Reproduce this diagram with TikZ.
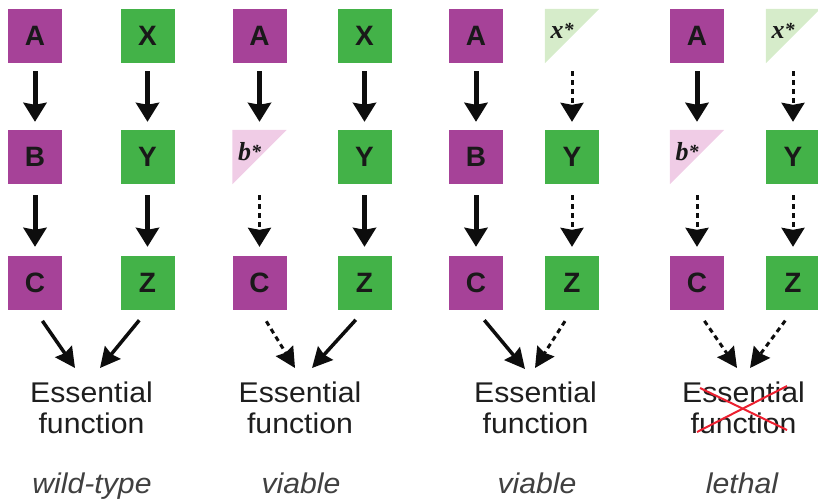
\documentclass[tikz,border=0pt]{standalone}
\usepackage{fontspec}
\setmainfont{Liberation Sans}
\newfontfamily\labfont[FakeStretch=1.06]{Liberation Sans}
\newfontfamily\mutfont{Liberation Serif}
\usetikzlibrary{arrows.meta,backgrounds}
\definecolor{purp}{RGB}{166,66,152}
\definecolor{grn}{RGB}{67,178,72}
\definecolor{purpl}{RGB}{240,204,230}
\definecolor{grnl}{RGB}{214,236,202}
\definecolor{txt}{RGB}{30,30,30}
\definecolor{crossred}{RGB}{236,32,48}
\newcommand{\mutname}[1]{#1\raisebox{2pt}{\fontsize{20}{20}\selectfont *}}
\begin{document}
\begin{tikzpicture}[x=1pt,y=-1pt,
  gene/.style={minimum size=54pt, inner sep=0pt, font=\fontsize{28}{30}\selectfont\bfseries, text=black!90},
  pg/.style={gene, fill=purp},
  gg/.style={gene, fill=grn},
  mut/.style={minimum size=54pt, inner sep=0pt},
  mutlab/.style={inner sep=0pt, font=\mutfont\bfseries\itshape\fontsize{26}{28}\selectfont, text=black!90, xshift=-10pt, yshift=5pt},
  ess/.style={inner sep=0pt, align=center, font=\labfont\fontsize{28.5}{31}\selectfont, text=txt},
  lab/.style={inner sep=0pt, anchor=base, font=\labfont\itshape\fontsize{28.5}{31}\selectfont, text=txt!85},
  arr/.style={-{Stealth[length=19pt,width=23pt,inset=2pt]}, line width=5pt, draw=black!95},
  darr/.style={arr, line width=3pt, dash pattern=on 5pt off 4pt},
  diag/.style={-{Stealth[length=20pt,width=20pt,inset=2pt]}, line width=3.5pt, draw=black!95},
  ddiag/.style={diag, line width=3pt, dash pattern=on 5pt off 4pt},
  top/.style={shorten <=8pt, shorten >=8pt},
  bot/.style={shorten <=11pt, shorten >=9pt},
  dstart/.style={shorten <=13pt}
]
\useasboundingbox (0,0) rectangle (818,499);

% ---------- column 1: wild-type ----------
\node[pg] (a1) at (35,36) {A};
\node[pg] (b1) at (35,157) {B};
\node[pg] (c1) at (35,283) {C};
\node[gg] (x1) at (147.5,36) {X};
\node[gg] (y1) at (147.5,157) {Y};
\node[gg] (z1) at (147.5,283) {Z};
\node[ess] (e1) at (91.5,407.5) {Essential\\function};
\node[lab] (l1) at (92,493) {wild-type};
\coordinate (t1l) at (75,368);
\coordinate (t1r) at (100,368);
\draw[arr, top] (a1) -- (b1);
\draw[arr, bot] (b1) -- (c1);
\draw[arr, top] (x1) -- (y1);
\draw[arr, bot] (y1) -- (z1);
\draw[diag, dstart] (c1.south) -- (t1l);
\draw[diag, dstart] (z1.south) -- (t1r);

% ---------- column 2: viable (b*) ----------
\node[pg] (a2) at (259.5,36) {A};
\node[mut, label={[mutlab]center:\mutname{b}}] (b2) at (259.5,157) {};
\node[pg] (c2) at (259.5,283) {C};
\node[gg] (x2) at (364.5,36) {X};
\node[gg] (y2) at (364.5,157) {Y};
\node[gg] (z2) at (364.5,283) {Z};
\node[ess] (e2) at (300,407.5) {Essential\\function};
\node[lab] (l2) at (301,493) {viable};
\coordinate (t2l) at (295,368);
\coordinate (t2r) at (312,368);
\draw[arr, top] (a2) -- (b2);
\draw[darr, bot] (b2) -- (c2);
\draw[arr, top] (x2) -- (y2);
\draw[arr, bot] (y2) -- (z2);
\draw[ddiag, dstart] (c2.south) -- (t2l);
\draw[diag, dstart] (z2.south) -- (t2r);

% ---------- column 3: viable (x*) ----------
\node[pg] (a3) at (476,36) {A};
\node[pg] (b3) at (476,157) {B};
\node[pg] (c3) at (476,283) {C};
\node[mut, label={[mutlab]center:\mutname{x}}] (x3) at (572,36) {};
\node[gg] (y3) at (572,157) {Y};
\node[gg] (z3) at (572,283) {Z};
\node[ess] (e3) at (535.5,407.5) {Essential\\function};
\node[lab] (l3) at (537,493) {viable};
\coordinate (t3l) at (525,369);
\coordinate (t3r) at (535,368);
\draw[arr, top] (a3) -- (b3);
\draw[arr, bot] (b3) -- (c3);
\draw[darr, top] (x3) -- (y3);
\draw[darr, bot] (y3) -- (z3);
\draw[diag, dstart] (c3.south) -- (t3l);
\draw[ddiag, dstart] (z3.south) -- (t3r);

% ---------- column 4: lethal ----------
\node[pg] (a4) at (697,36) {A};
\node[mut, label={[mutlab]center:\mutname{b}}] (b4) at (697,157) {};
\node[pg] (c4) at (697,283) {C};
\node[mut, label={[mutlab]center:\mutname{x}}] (x4) at (793,36) {};
\node[gg] (y4) at (793,157) {Y};
\node[gg] (z4) at (793,283) {Z};
\node[ess] (e4) at (743.5,407.5) {Essential\\function};
\node[lab] (l4) at (742,493) {lethal};
\coordinate (t4l) at (737,368);
\coordinate (t4r) at (750,368);
\draw[arr, top] (a4) -- (b4);
\draw[darr, bot] (b4) -- (c4);
\draw[darr, top] (x4) -- (y4);
\draw[darr, bot] (y4) -- (z4);
\draw[ddiag, dstart] (c4.south) -- (t4l);
\draw[ddiag, dstart] (z4.south) -- (t4r);
\draw[crossred, line width=2pt] (700,388) -- (787,430);
\draw[crossred, line width=2pt] (787,386) -- (697,432);

% ---------- mutant half-boxes ----------
\begin{scope}[on background layer]
  \fill[purpl] (b2.north west) -- (b2.north east) -- (b2.south west) -- cycle;
  \fill[purpl] (b4.north west) -- (b4.north east) -- (b4.south west) -- cycle;
  \fill[grnl] (x3.north west) -- (x3.north east) -- (x3.south west) -- cycle;
  \fill[grnl] (x4.north west) -- (x4.north east) -- (x4.south west) -- cycle;
\end{scope}
\end{tikzpicture}
\end{document}
